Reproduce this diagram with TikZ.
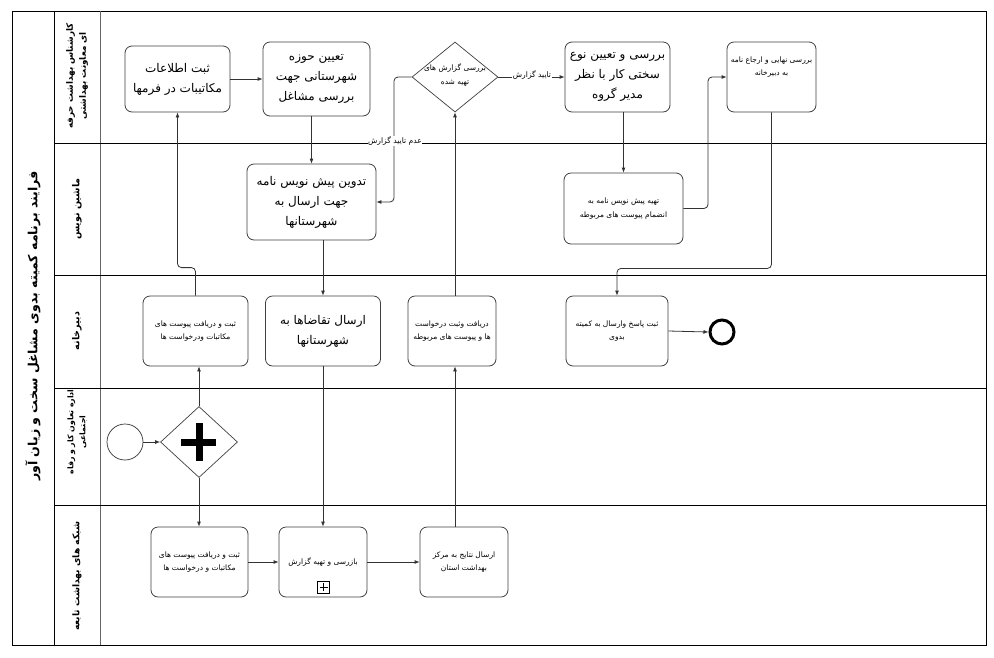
\documentclass[tikz,border=0pt]{standalone}
\usepackage{fontspec}
\newfontfamily\arabicfont[Script=Arabic]{DejaVu Sans}
\TeXXeTstate=1
\usetikzlibrary{shapes.geometric,arrows.meta}
\newcommand{\fa}[1]{\beginR #1\endR}
\tikzset{
  task/.style={draw=black!75, line width=0.8pt, rounded corners=7pt, align=center, inner sep=1pt, fill=white},
  bigtxt/.style={font=\arabicfont\fontsize{12}{20}\selectfont},
  smalltxt/.style={font=\arabicfont\fontsize{7.5}{13.5}\selectfont},
  gw/.style={draw=black!75, line width=0.7pt, shape=diamond, inner sep=0pt},
  arr/.style={draw=black!80, line width=0.8pt, -{Latex[length=5pt,width=4pt]}, rounded corners=4pt},
  lanelbl/.style={rotate=90, align=center, font=\arabicfont\bfseries\fontsize{9.6}{13}\selectfont},
  flowlbl/.style={fill=white, inner sep=0.5pt, font=\arabicfont\fontsize{7.6}{9}\selectfont},
  laneline/.style={draw=black, line width=0.8pt}
}
\begin{document}
\begin{tikzpicture}[x=1pt,y=-1pt]
\useasboundingbox (0,0) rectangle (994,657);
\fill[white] (0,0) rectangle (994,657);
% pool and lanes
\draw[laneline, line width=1pt] (12,11) rectangle (986,645);
\draw[laneline] (54,11) -- (54,645);
\draw[draw=black!60, line width=0.8pt] (100,11) -- (100,645);
\foreach \yy in {143,275,388,505} \draw[laneline] (54,\yy) -- (986,\yy);
\node[rotate=90, font=\arabicfont\bfseries\fontsize{12.6}{15}\selectfont] (title) at (33,326) {\fa{فرایند برنامه کمیته بدوی مشاغل سخت و زیان آور}};
\node[lanelbl, font=\arabicfont\bfseries\fontsize{8.8}{13}\selectfont] (l1) at (77,76) {\fa{کارشناس بهداشت حرفه}\\\fa{ای معاونت بهداشتی}};
\node[lanelbl] (l2) at (77,209) {\fa{ماشین نویس}};
\node[lanelbl] (l3) at (77,331) {\fa{دبیرخانه}};
\node[lanelbl, font=\arabicfont\bfseries\fontsize{7.8}{12}\selectfont] (l4) at (77,432) {\fa{اداره تعاون کار و رفاه}\\\fa{اجتماعی}};
\node[lanelbl, font=\arabicfont\bfseries\fontsize{9.2}{13}\selectfont] (l5) at (77,576) {\fa{شبکه های بهداشت تابعه}};
% tasks
\node[task,bigtxt,minimum width=105pt,minimum height=66pt] (b1) at (177.5,79) {\fa{ثبت اطلاعات}\\\fa{مکاتیبات در فرمها}};
\node[task,bigtxt,minimum width=107pt,minimum height=74pt] (b2) at (316.5,79) {\fa{تعیین حوزه}\\\fa{شهرستانی جهت}\\\fa{بررسی مشاغل}};
\node[gw,minimum width=86pt,minimum height=70pt] (d1) at (455,77) {};
\node[smalltxt,align=center] (d1t) at (455,75) {\fa{بررسی گزارش های}\\\fa{تهیه شده}};
\node[task,bigtxt,minimum width=105pt,minimum height=70pt] (b4) at (617.5,77) {\fa{بررسی و تعیین نوع}\\\fa{سختی کار با نظر}\\\fa{مدیر گروه}};
\node[task,smalltxt,minimum width=89pt,minimum height=70pt] (b5) at (771.5,77) {\fa{بررسی نهایی و ارجاع نامه}\\\fa{به دبیرخانه}\\[8pt]};
\node[task,bigtxt,minimum width=129pt,minimum height=76pt] (b6) at (311.5,202) {\fa{تدوین پیش نویس نامه}\\\fa{جهت ارسال به}\\\fa{شهرستانها}};
\node[task,smalltxt,minimum width=119pt,minimum height=71pt] (b7) at (623.5,208.5) {\fa{تهیه پیش نویس نامه به}\\\fa{انضمام پیوست های مربوطه}};
\node[task,smalltxt,minimum width=105pt,minimum height=70pt] (b8) at (195.5,331) {\fa{ثبت و دریافت پیوست های}\\\fa{مکاتبات ودرخواست ها}};
\node[task,bigtxt,minimum width=115pt,minimum height=70pt] (b9) at (323,331) {\fa{ارسال تقاضاها به}\\\fa{شهرستانها}};
\node[task,smalltxt,minimum width=88pt,minimum height=70pt] (b10) at (452,331) {\fa{دریافت وثبت درخواست}\\\fa{ها و پیوست های مربوطه}};
\node[task,smalltxt,minimum width=102pt,minimum height=70pt] (b11) at (617,331) {\fa{ثبت پاسخ وارسال به کمیته}\\\fa{بدوی}};
\node[circle,draw=black,line width=3pt,minimum size=24pt,inner sep=0pt] (end) at (722,332) {};
\node[circle,draw=black!80,line width=0.7pt,minimum size=36pt,inner sep=0pt] (start) at (125,442) {};
\node[gw,minimum width=77pt,minimum height=71pt] (g1) at (199,442) {};
\fill[black] (181,438.5) rectangle (216,445.5);
\fill[black] (195.5,423) rectangle (202.5,461);
\node[task,smalltxt,minimum width=97pt,minimum height=70pt] (bA) at (199.5,562) {\fa{ثبت و دریافت پیوست های}\\\fa{مکاتبات و درخواست ها}};
\node[task,smalltxt,minimum width=88pt,minimum height=70pt] (bB) at (323,562) {\fa{بازرسی و تهیه گزارش}};
\node[draw=black, line width=0.6pt, minimum size=12pt, inner sep=0pt] (bBm) at (323.5,587) {};
\draw[line width=1pt] (319.5,587) -- (327.5,587) (323.5,583) -- (323.5,591);
\node[task,smalltxt,minimum width=88pt,minimum height=70pt] (bC) at (464,562) {\fa{ارسال نتایج به مرکز}\\\fa{بهداشت استان}};
% coordinates for routing
\coordinate (c1) at (394,0);
\coordinate (c2) at (708,0);
% connectors
\draw[arr] (start.east) -- (g1.west);
\draw[arr] (g1.north) -- (g1.north |- b8.south);
\draw[arr] (g1.south) -- (g1.south |- bA.north);
\draw[arr] (b8.north) -- ++(0,-28) -| (b1.south);
\draw[arr] (b1.east) -- (b2.west);
\draw[arr] (b2.south -| b6) -- (b6.north);
\draw[arr] (b6.south -| b9) -- (b9.north);
\draw[arr] (b9.south) -- (b9.south |- bB.north);
\draw[arr] (bA.east) -- (bB.west);
\draw[arr] (bB.east) -- (bC.west);
\draw[arr] (bC.north -| d1) -- (b10.south -| d1);
\draw[arr] (b10.north -| d1) -- (d1.south);
\draw[arr] (d1.east) -- (b4.west |- d1.east);
\node[flowlbl] (lab1) at (532,75) {\fa{تایید گزارش}};
\draw[arr] (d1.west) -| (c1 |- b6.east) -- (b6.east);
\node[flowlbl] (lab2) at (395,141) {\fa{عدم تایید گزارش}};
\draw[arr] (b4.south -| b7) -- (b7.north);
\draw[arr] (b7.east) -| (c2 |- b5.west) -- (b5.west);
\draw[arr] (b5.south) -- ++(0,156) -| (b11.north);
\draw[arr] (b11.east) -- (end.west);
\end{tikzpicture}
\end{document}
